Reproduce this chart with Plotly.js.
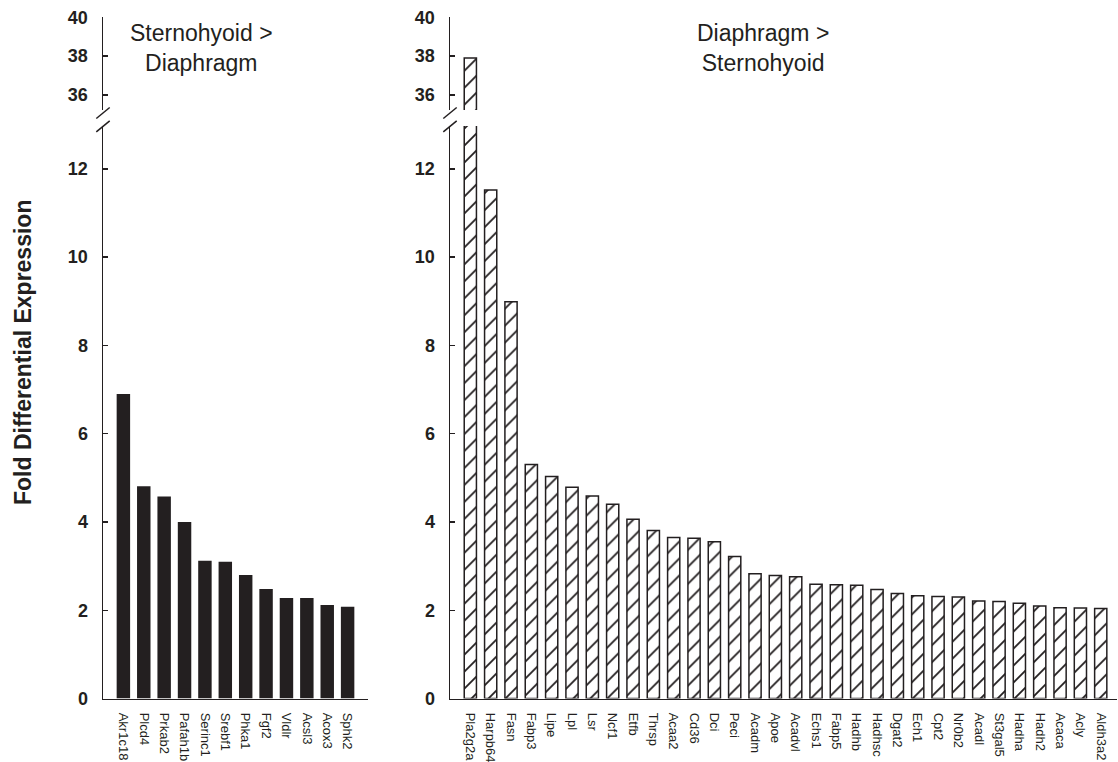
<!DOCTYPE html>
<html>
<head>
<meta charset="utf-8">
<script src="https://cdn.plot.ly/plotly-3.0.1.min.js"></script>
<style>html,body{margin:0;padding:0;background:#fff;}#chart{width:1118px;height:762px;}</style>
</head>
<body>
<div id="chart"></div>
<script>
// ---- Data ----
const leftGenes = ["Akr1c18","Plcd4","Prkab2","Pafah1b","Serinc1","Srebf1","Phka1","Fgf2","Vldlr","Acsl3","Acox3","Sphk2"];
const leftValues = [6.90, 4.81, 4.58, 4.00, 3.12, 3.10, 2.80, 2.48, 2.28, 2.28, 2.12, 2.08];

const rightGenes = ["Pla2g2a","Harpb64","Fasn","Fabp3","Lipe","Lpl","Lsr","Ncf1","Etfb","Thrsp","Acaa2","Cd36","Dci","Peci","Acadm","Apoe","Acadvl","Echs1","Fabp5","Hadhb","Hadhsc","Dgat2","Ech1","Cpt2","Nr0b2","Acadl","St3gal5","Hadha","Hadh2","Acaca","Acly","Aldh3a2"];
const rightValues = [37.9, 11.52, 8.99, 5.30, 5.03, 4.79, 4.59, 4.40, 4.06, 3.81, 3.65, 3.63, 3.55, 3.22, 2.83, 2.79, 2.76, 2.59, 2.58, 2.57, 2.47, 2.38, 2.33, 2.31, 2.30, 2.21, 2.20, 2.16, 2.10, 2.06, 2.05, 2.04];

const lowerTicks = [0, 2, 4, 6, 8, 10, 12];
const upperTicks = [36, 38, 40];

const leftTitle = "Sternohyoid &gt;<br>Diaphragm";
const rightTitle = "Diaphragm &gt;<br>Sternohyoid";
const yTitle = "Fold Differential Expression";

// ---- Styling ----
const W = 1118, H = 762;
const ink = "#231f20";
const px = v => v / W;
const py = v => 1 - v / H;

const lowerDom = [py(698.6), py(126)];
const upperDom = [py(110), py(17.3)];

const solidBar = {color: ink, line: {width: 0}};
const hatchBar = {
  color: "white",
  line: {color: ink, width: 1.5},
  pattern: {shape: "/", size: 12, solidity: 0.15, fgcolor: ink, bgcolor: "white", fillmode: "replace"}
};

const traces = [
  {type: "bar", x: leftGenes, y: leftValues, xaxis: "x", yaxis: "y", width: 0.66, marker: solidBar},
  {type: "bar", x: leftGenes, y: leftValues, xaxis: "x", yaxis: "y3", width: 0.66, marker: solidBar},
  {type: "bar", x: rightGenes, y: rightValues, xaxis: "x2", yaxis: "y2", width: 0.6, marker: hatchBar},
  {type: "bar", x: rightGenes, y: rightValues, xaxis: "x2", yaxis: "y4", width: 0.6, marker: hatchBar}
];

const tickFontY = {family: "Liberation Sans, Arial, sans-serif", size: 18, weight: "bold", color: ink};
const tickFontX = {family: "Liberation Sans, Arial, sans-serif", size: 13, color: ink};

function xAxis(dom, range, anchor) {
  return {
    domain: dom, range: range, anchor: anchor, type: "category",
    showline: true, linewidth: 1.5, linecolor: ink, ticks: "",
    showgrid: false, zeroline: false, tickangle: 90, tickfont: tickFontX,
    ticklabelstandoff: 10, fixedrange: true
  };
}
function yAxis(dom, range, anchor, ticks) {
  return {
    domain: dom, range: range, anchor: anchor,
    tickmode: "array", tickvals: ticks, ticktext: ticks.map(String),
    showline: true, linewidth: 1.5, linecolor: ink,
    ticks: "inside", ticklen: 5, tickwidth: 1.5, tickcolor: ink,
    showgrid: false, zeroline: false, tickfont: tickFontY,
    ticklabelstandoff: 10, fixedrange: true
  };
}

function slash(xc, yc) {
  return {type: "line", xref: "paper", yref: "paper",
    x0: px(xc - 6.7), y0: py(yc + 5.5), x1: px(xc + 6.7), y1: py(yc - 5.5),
    line: {color: ink, width: 1.5}};
}

const layout = {
  width: W, height: H,
  margin: {l: 0, r: 0, t: 0, b: 0},
  paper_bgcolor: "white", plot_bgcolor: "rgba(0,0,0,0)",
  showlegend: false,
  font: {family: "Liberation Sans, Arial, sans-serif", color: ink},
  xaxis: xAxis([px(103), px(368)], [-1, 12], "y"),
  xaxis2: xAxis([px(450), px(1117)], [-1, 31.8], "y2"),
  yaxis: yAxis(lowerDom, [0, 12.97], "x", lowerTicks),
  yaxis3: yAxis(upperDom, [35.22, 40], "x", upperTicks),
  yaxis2: yAxis(lowerDom, [0, 12.97], "x2", lowerTicks),
  yaxis4: yAxis(upperDom, [35.22, 40], "x2", upperTicks),
  shapes: [slash(103, 113), slash(103, 126.3), slash(450, 113), slash(450, 126.3)],
  annotations: [
    {text: leftTitle, xref: "paper", yref: "paper", x: px(201), y: py(48), xanchor: "center", yanchor: "middle",
     showarrow: false, align: "center", font: {size: 23, color: ink, family: "Liberation Sans, Arial, sans-serif"}},
    {text: rightTitle, xref: "paper", yref: "paper", x: px(763), y: py(48), xanchor: "center", yanchor: "middle",
     showarrow: false, align: "center", font: {size: 23, color: ink, family: "Liberation Sans, Arial, sans-serif"}},
    {text: yTitle, xref: "paper", yref: "paper", x: px(22.5), y: py(352.5), xanchor: "center", yanchor: "middle",
     textangle: -90, showarrow: false, font: {size: 23, weight: "bold", color: ink, family: "Liberation Sans, Arial, sans-serif"}}
  ]
};

Plotly.newPlot("chart", traces, layout, {staticPlot: true, displayModeBar: false});
</script>
</body>
</html>
